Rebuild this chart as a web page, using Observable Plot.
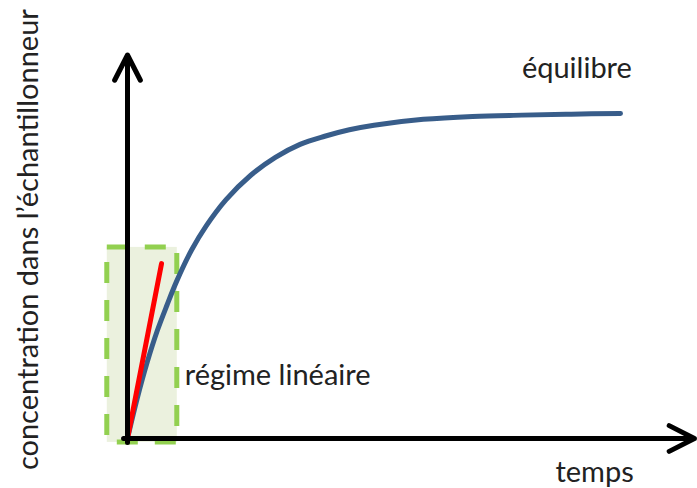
<!DOCTYPE html>
<html>
<head>
<meta charset="utf-8">
<script src="https://cdn.jsdelivr.net/npm/d3@7"></script>
<script src="https://cdn.jsdelivr.net/npm/@observablehq/plot@0.6"></script>
<style>
  html, body { margin: 0; padding: 0; background: #fff; }
  #chart { width: 697px; height: 488px; }
</style>
</head>
<body>
<div id="chart"></div>
<script>
// Saturation curve (time, concentration; equilibrium = 100)
const curveTime = [0, 2, 4, 6, 8, 10, 13, 16, 20, 25, 30, 35, 40, 45, 50, 60, 70, 80, 90, 100];
const curveConc = [0, 12.5, 23.5, 33, 41, 48.5, 58, 65.5, 73.5, 81, 86.5, 90.5, 93, 95, 96.4, 98.2, 99.1, 99.5, 99.8, 100];

// Initial tangent (linear regime)
const tangentTime = [0, 6.9];
const tangentConc = [0, 53.8];

// Linear-regime box
const boxTime = [-4.1, 10.1];
const boxConc = [-1.2, 58.8];

// Axes (arrows)
const axisX = {x1: -0.8, y1: 0, x2: 115.0, y2: 0};
const axisY = {x1: 0, y1: -1.2, x2: 0, y2: 118.0};

// Labels
const labelText = ["équilibre", "régime linéaire", "temps"];
const labelTime = [80.0, 11.6, 86.8];
const labelConc = [113.9, 19.2, -10.6];
const yLabel = "concentration dans l\u2019échantillonneur";
const yLabelPos = {t: -20.1, c: 61.2};

const curve = curveTime.map((t, i) => ({t, c: curveConc[i]}));
const tangent = tangentTime.map((t, i) => ({t, c: tangentConc[i]}));
const labels = labelText.map((text, i) => ({text, t: labelTime[i], c: labelConc[i]}));

const font = "Lato, 'Open Sans', sans-serif";

const chart = Plot.plot({
  width: 697,
  height: 488,
  margin: 0,
  style: {background: "#fff", fontFamily: font},
  x: {domain: [0, 100], range: [127, 620], axis: null},
  y: {domain: [0, 100], range: [438, 113], axis: null},
  marks: [
    Plot.rect([{x1: boxTime[0], x2: boxTime[1], y1: boxConc[0], y2: boxConc[1]}], {
      x1: "x1", x2: "x2", y1: "y1", y2: "y2",
      fill: "#ebf1de", stroke: "#92d050", strokeWidth: 5, strokeDasharray: "21,17"
    }),
    Plot.line(curve, {x: "t", y: "c", stroke: "#385d8a", strokeWidth: 5, curve: "catmull-rom"}),
    Plot.line(tangent, {x: "t", y: "c", stroke: "#ff0000", strokeWidth: 5}),
    Plot.arrow([axisX, axisY], {
      x1: "x1", y1: "y1", x2: "x2", y2: "y2",
      stroke: "#000", strokeWidth: 5, headAngle: 54, headLength: 8.5
    }),
    Plot.text(labels, {
      x: "t", y: "c", text: "text", textAnchor: "start",
      fontSize: 29, fill: "#222", fontFamily: font
    }),
    Plot.text([yLabelPos], {
      x: "t", y: "c", text: () => yLabel, rotate: -90,
      fontSize: 29, fill: "#222", fontFamily: font
    })
  ]
});
document.getElementById("chart").appendChild(chart);
</script>
</body>
</html>
